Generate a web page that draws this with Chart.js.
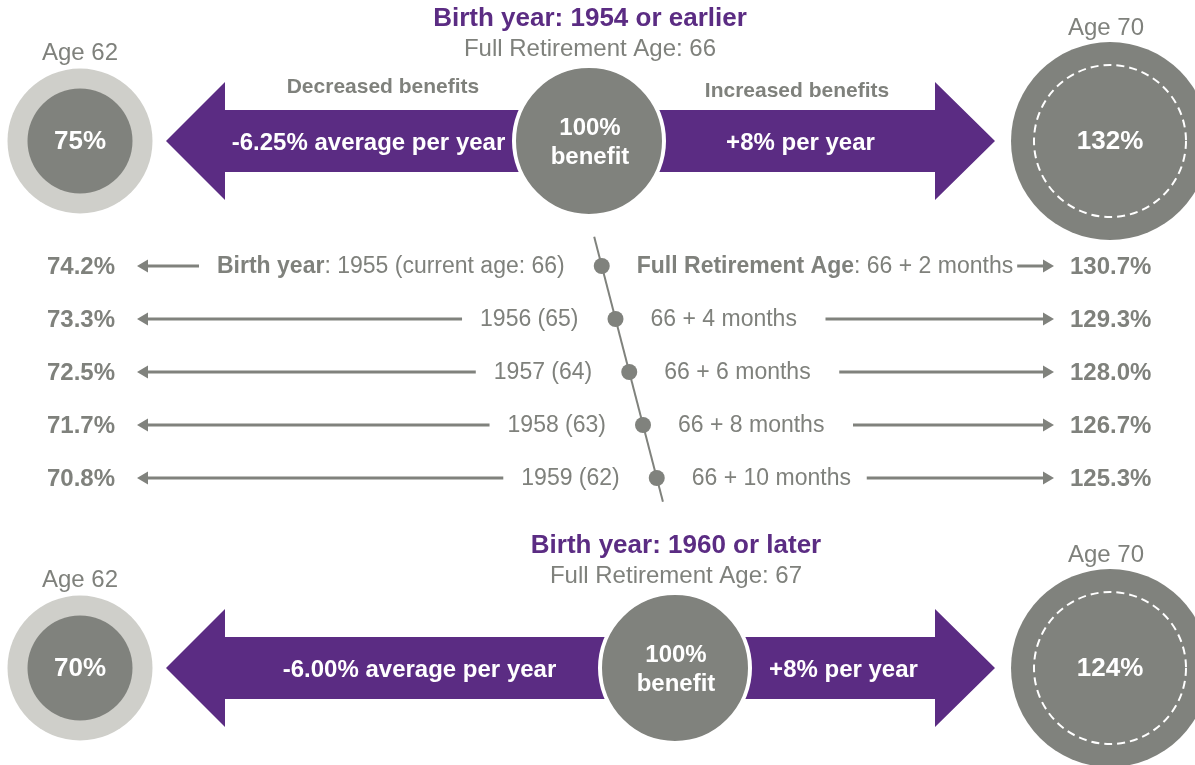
<!DOCTYPE html>
<html>
<head>
<meta charset="utf-8">
<script src="https://cdn.jsdelivr.net/npm/chart.js@4"></script>
<style>
  html, body { margin: 0; padding: 0; background: #fff; }
  canvas { display: block; }
</style>
</head>
<body>
<canvas id="chart" width="1195" height="765"></canvas>
<script>
// ---- 数据 ----
// 两个出生年份组（上：1954 及更早，下：1960 及以后）
const groupTitles = ['1954 or earlier', '1960 or later'];
const groupFRA = [66, 67];
const groupAt62 = [75, 70];
const groupAt70 = [132, 124];
const groupCut = ['-6.25%', '-6.00%'];
const groupRaise = ['+8%', '+8%'];

// 中间的过渡年份
const birthYears = [1955, 1956, 1957, 1958, 1959];
const currentAges = [66, 65, 64, 63, 62];
const fraMonths = [2, 4, 6, 8, 10];          // 66 岁 + 月数
const at62 = [74.2, 73.3, 72.5, 71.7, 70.8];
const at70 = [130.7, 129.3, 128.0, 126.7, 125.3];

// ---- 版式 ----
const PURPLE = '#5b2c83';
const GREY = '#80827d';
const LIGHT = '#cfcfca';
const TEXT = '#7f817c';
const FONT = '"Liberation Sans", Arial, sans-serif';

const groupY = [141, 668];
const groupMidX = [589, 675];
const leftX = 80, rightX = 1110;
const rowY = i => 266 + 53 * i;
const monthX = m => 588 + 6.875 * m;

// 大箭头尺寸
const TIP_L = 166, BASE_L = 225, BASE_R = 935, TIP_R = 995, HEAD = 59, SHAFT = 31;
const MID_R = 77;

function font(size, bold) {
    return (bold ? 'bold ' : '') + size + 'px ' + FONT;
}

// 画由粗体/常规片段组成的一行文字，返回左右边界
function drawRuns(ctx, parts, x, y, align, size, color) {
    const widths = parts.map(([t, b]) => { ctx.font = font(size, b); return ctx.measureText(t).width; });
    const total = widths.reduce((a, b) => a + b, 0);
    let cx = align === 'right' ? x - total : align === 'center' ? x - total / 2 : x;
    const left = cx;
    ctx.fillStyle = color;
    ctx.textAlign = 'left';
    ctx.textBaseline = 'middle';
    parts.forEach(([t, b], k) => {
        ctx.font = font(size, b);
        ctx.fillText(t, cx, y);
        cx += widths[k];
    });
    return { left: left, right: left + total };
}

function thinArrow(ctx, from, to, y) {
    const dir = Math.sign(to - from);
    ctx.strokeStyle = GREY;
    ctx.fillStyle = GREY;
    ctx.lineWidth = 3;
    ctx.beginPath();
    ctx.moveTo(from, y);
    ctx.lineTo(to - dir * 8, y);
    ctx.stroke();
    ctx.beginPath();
    ctx.moveTo(to, y);
    ctx.lineTo(to - dir * 11, y - 6.5);
    ctx.lineTo(to - dir * 11, y + 6.5);
    ctx.closePath();
    ctx.fill();
}

// 大紫色箭头（在数据层下面）
const bigArrows = {
    id: 'bigArrows',
    beforeDatasetsDraw(chart) {
        const { ctx, scales: { x, y } } = chart;
        ctx.save();
        ctx.fillStyle = PURPLE;
        groupY.forEach((gy, g) => {
            const X = v => x.getPixelForValue(v);
            const Y = v => y.getPixelForValue(v);
            const mid = groupMidX[g];
            ctx.beginPath();
            ctx.moveTo(X(TIP_L), Y(gy));
            ctx.lineTo(X(BASE_L), Y(gy - HEAD));
            ctx.lineTo(X(BASE_L), Y(gy - SHAFT));
            ctx.lineTo(X(mid), Y(gy - SHAFT));
            ctx.lineTo(X(mid), Y(gy + SHAFT));
            ctx.lineTo(X(BASE_L), Y(gy + SHAFT));
            ctx.lineTo(X(BASE_L), Y(gy + HEAD));
            ctx.closePath();
            ctx.fill();
            ctx.beginPath();
            ctx.moveTo(X(mid), Y(gy - SHAFT));
            ctx.lineTo(X(BASE_R), Y(gy - SHAFT));
            ctx.lineTo(X(BASE_R), Y(gy - HEAD));
            ctx.lineTo(X(TIP_R), Y(gy));
            ctx.lineTo(X(BASE_R), Y(gy + HEAD));
            ctx.lineTo(X(BASE_R), Y(gy + SHAFT));
            ctx.lineTo(X(mid), Y(gy + SHAFT));
            ctx.closePath();
            ctx.fill();
        });
        ctx.restore();
    }
};

// 文字、虚线圆和细箭头
const labels = {
    id: 'labels',
    afterDatasetsDraw(chart) {
        const { ctx, scales: { x, y } } = chart;
        const X = v => x.getPixelForValue(v);
        const Y = v => y.getPixelForValue(v);
        ctx.save();

        groupY.forEach((gy, g) => {
            const mid = groupMidX[g];
            // 虚线圆
            ctx.strokeStyle = '#fff';
            ctx.lineWidth = 2;
            ctx.setLineDash([8, 5]);
            ctx.beginPath();
            ctx.arc(X(rightX), Y(gy), 76, 0, Math.PI * 2);
            ctx.stroke();
            ctx.setLineDash([]);

            drawRuns(ctx, [['Birth year: ' + groupTitles[g], true]], X(mid + 1), Y(gy - 122), 'center', 26, PURPLE);
            drawRuns(ctx, [['Full Retirement Age: ' + groupFRA[g], false]], X(mid + 1), Y(gy - 92), 'center', 24, TEXT);
            drawRuns(ctx, [['Age 62', false]], X(leftX), Y(gy - 88), 'center', 24, TEXT);
            drawRuns(ctx, [['Age 70', false]], X(rightX - 4), Y(gy - 113), 'center', 24, TEXT);

            drawRuns(ctx, [[groupAt62[g] + '%', true]], X(leftX), Y(gy + 1), 'center', 26, '#fff');
            drawRuns(ctx, [[groupAt70[g] + '%', true]], X(rightX), Y(gy + 1), 'center', 26, '#fff');
            drawRuns(ctx, [['100%', true]], X(mid + 1), Y(gy - 13), 'center', 24, '#fff');
            drawRuns(ctx, [['benefit', true]], X(mid + 1), Y(gy + 16), 'center', 24, '#fff');

            const cutX = (BASE_L + mid - MID_R) / 2 + (g ? 8 : 0);
            const raiseX = (mid + MID_R + BASE_R) / 2;
            drawRuns(ctx, [[groupCut[g] + ' average per year', true]], X(cutX), Y(gy + 2), 'center', 24, '#fff');
            drawRuns(ctx, [[groupRaise[g] + ' per year', true]], X(raiseX), Y(gy + 2), 'center', 24, '#fff');

            if (g === 0) {
                drawRuns(ctx, [['Decreased benefits', true]], X(383), Y(gy - 54), 'center', 21, TEXT);
                drawRuns(ctx, [['Increased benefits', true]], X(797), Y(gy - 50), 'center', 21, TEXT);
            }
        });

        birthYears.forEach((yr, i) => {
            const ry = Y(rowY(i) + 1);
            const dx = X(monthX(fraMonths[i]));
            drawRuns(ctx, [[at62[i].toFixed(1) + '%', true]], X(47), ry, 'left', 24, TEXT);
            drawRuns(ctx, [[at70[i].toFixed(1) + '%', true]], X(1070), ry, 'left', 24, TEXT);

            const leftParts = i === 0
                ? [['Birth year', true], [': ' + yr + ' (current age: ' + currentAges[i] + ')', false]]
                : [[yr + ' (' + currentAges[i] + ')', false]];
            const rightParts = i === 0
                ? [['Full Retirement Age', true], [': 66 + ' + fraMonths[i] + ' months', false]]
                : [['66 + ' + fraMonths[i] + ' months', false]];
            const l = drawRuns(ctx, leftParts, dx - 37, ry, 'right', 23, TEXT);
            const r = drawRuns(ctx, rightParts, dx + 35, ry, 'left', 23, TEXT);

            thinArrow(ctx, l.left - 18, X(137), Y(rowY(i)));
            thinArrow(ctx, Math.max(r.right + 4, dx + 210), X(1054), Y(rowY(i)));
        });
        ctx.restore();
    }
};

const ctx = document.getElementById('chart').getContext('2d');
new Chart(ctx, {
    type: 'scatter',
    data: {
        datasets: [
            {
                // 斜线
                type: 'line',
                data: [
                    { x: monthX(0.9), y: rowY(-0.55) },
                    { x: monthX(10.9), y: rowY(4.45) }
                ],
                borderColor: GREY,
                borderWidth: 2,
                pointRadius: 0,
                order: 5
            },
            {
                // 过渡年份的点
                data: fraMonths.map((m, i) => ({ x: monthX(m), y: rowY(i) })),
                pointRadius: 8,
                backgroundColor: GREY,
                borderWidth: 0,
                order: 4
            },
            {
                // 62 岁外圈
                data: groupY.map(gy => ({ x: leftX, y: gy })),
                pointRadius: 72.5,
                backgroundColor: LIGHT,
                borderWidth: 0,
                order: 3
            },
            {
                // 62 岁内圈
                data: groupY.map(gy => ({ x: leftX, y: gy })),
                pointRadius: 52.5,
                backgroundColor: GREY,
                borderWidth: 0,
                order: 2
            },
            {
                // 100% 圆
                data: groupY.map((gy, g) => ({ x: groupMidX[g], y: gy })),
                pointRadius: 75,
                backgroundColor: GREY,
                borderColor: '#fff',
                borderWidth: 4,
                order: 1
            },
            {
                // 70 岁圆
                data: groupY.map(gy => ({ x: rightX, y: gy })),
                pointRadius: 99,
                backgroundColor: GREY,
                borderWidth: 0,
                order: 1
            }
        ]
    },
    options: {
        responsive: false,
        animation: false,
        devicePixelRatio: 1,
        events: [],
        layout: { padding: 0, autoPadding: false },
        plugins: { legend: { display: false }, tooltip: { enabled: false } },
        scales: {
            x: { type: 'linear', min: 0, max: 1195, display: false },
            y: { type: 'linear', min: 0, max: 765, reverse: true, display: false }
        }
    },
    plugins: [bigArrows, labels]
});
</script>
</body>
</html>
